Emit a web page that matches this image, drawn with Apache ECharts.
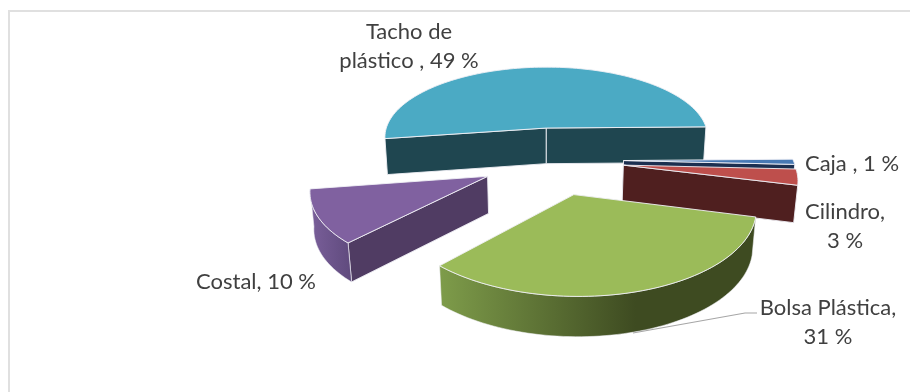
<!DOCTYPE html>
<html>
<head>
<meta charset="utf-8">
<script src="https://cdn.jsdelivr.net/npm/echarts@6/dist/echarts.min.js"></script>
<style>html,body{margin:0;padding:0;background:#fff}#main{width:910px;height:392px}</style>
</head>
<body>
<div id="main"></div>
<script>
// Slices in clockwise drawing order, beginning with the large back slice.
const categories = ['Tacho de plástico', 'Caja', 'Cilindro', 'Bolsa Plástica', 'Costal'];
const values = [49, 1, 3, 31, 10];
const labelTexts = ['Tacho de\nplástico , 49 %', 'Caja , 1 %', 'Cilindro,\n3 %', 'Bolsa Plástica,\n31 %', 'Costal, 10 %'];

const total = values.reduce((a, b) => a + b, 0);

// Perspective of the tilted disc: Y grows toward the viewer, radius is 1.
const VIEW = { cx: 547, scale: 160, k: 0.129, topH: -405, topA: 533, botH: -395, botA: 567, botQ: 0.015 };
const EXPLODE_X = 0.42;
const EXPLODE_Y = 0.44;
const CENTER = [0.031, 0.439];
const FIRST_EDGE_DEG = -188.66;   // Tacho starts here and sweeps clockwise

function project(X, Y, bottom) {
  const w = 1 / (1 - VIEW.k * Y + (bottom ? VIEW.botQ : 0));
  return [VIEW.cx + VIEW.scale * X * w, (bottom ? VIEW.botH + VIEW.botA * w : VIEW.topH + VIEW.topA * w)];
}

const STYLES = [
  { top: '#4BAAC4', cut: '#1F4650', side: '#1F4650' },
  { top: '#4779B4', cut: '#1B2F50', side: '#1B2F50' },
  { top: '#BE4F4C', cut: '#4F1F1F', side: '#4F1F1F' },
  { top: '#9BBB59', cut: '#3E4B21', side: [['0', '#7E9C4A'], ['0.62', '#3E4B21'], ['1', '#3E4B21']] },
  { top: '#8061A0', cut: '#503C63', side: [['0', '#7A5F9A'], ['1', '#5F4A7D']] }
];
const LABEL_SPOTS = [
  { x: 409, y: 46 }, { x: 852, y: 164 }, { x: 845, y: 226 }, { x: 828, y: 322 }, { x: 256, y: 282 }
];
const EDGE = 'rgba(240,240,245,0.9)';

function renderSlice(params, api) {
  const i = params.dataIndex;
  let before = 0;
  for (let n = 0; n < i; n++) before += values[n];
  const a0 = (FIRST_EDGE_DEG + before / total * 360) * Math.PI / 180;
  const a1 = a0 + api.value(1) / total * 2 * Math.PI;
  const mid = (a0 + a1) / 2;
  const ox = CENTER[0] + EXPLODE_X * Math.cos(mid);
  const oy = CENTER[1] + EXPLODE_Y * Math.sin(mid);

  const arcTop = [], arcBot = [];
  const steps = Math.max(4, Math.ceil((a1 - a0) / 0.03));
  for (let s = 0; s <= steps; s++) {
    const a = a0 + (a1 - a0) * s / steps;
    const X = ox + Math.cos(a), Y = oy + Math.sin(a);
    arcTop.push(project(X, Y, false));
    arcBot.push(project(X, Y, true));
  }
  const apexT = project(ox, oy, false), apexB = project(ox, oy, true);
  const st = STYLES[i];
  const kids = [];
  const poly = (pts, fill, lw) => kids.push({
    type: 'polygon', shape: { points: pts },
    style: { fill: fill, stroke: EDGE, lineWidth: lw === undefined ? 1 : lw, lineJoin: 'round' }
  });

  // Only cut faces turned toward the viewer are drawn.
  if (-Math.cos(a0) > 0) poly([apexT, arcTop[0], arcBot[0], apexB], st.cut);
  if (Math.cos(a1) > 0) poly([apexT, arcTop[steps], arcBot[steps], apexB], st.cut);
  // The outer wall only shows on slices reaching the front of the disc.
  if (i >= 3) {
    const fill = new echarts.graphic.LinearGradient(0, 0, 1, 0, st.side.map(c => ({ offset: +c[0], color: c[1] })));
    poly(arcTop.concat(arcBot.slice().reverse()), fill, 0.6);
  }
  poly([apexT].concat(arcTop), st.top);

  // Outside label for the slice.
  kids.push({
    type: 'text',
    style: {
      text: labelTexts[i], x: LABEL_SPOTS[i].x, y: LABEL_SPOTS[i].y,
      align: 'center', verticalAlign: 'middle',
      font: '400 22px Lato', lineHeight: 29, fill: '#404040'
    }
  });
  return { type: 'group', children: kids };
}

const chart = echarts.init(document.getElementById('main'), null, { renderer: 'canvas' });
chart.setOption({
  animation: false,
  backgroundColor: '#ffffff',
  graphic: [
    { type: 'polyline', shape: { points: [[9, 392], [9, 11], [910, 11]] }, style: { stroke: '#E0E0E0', lineWidth: 2, fill: 'none' }, z: 0 },
    { type: 'polyline', shape: { points: [[757, 313], [745, 313], [633, 333]] }, style: { stroke: '#A6A6A6', lineWidth: 1.2, fill: 'none' }, z: 5 }
  ],
  series: [{
    type: 'custom',
    coordinateSystem: 'none',
    renderItem: renderSlice,
    data: categories.map((name, i) => ({ name: name, value: [i, values[i]] })),
    silent: true
  }]
});
</script>
</body>
</html>
